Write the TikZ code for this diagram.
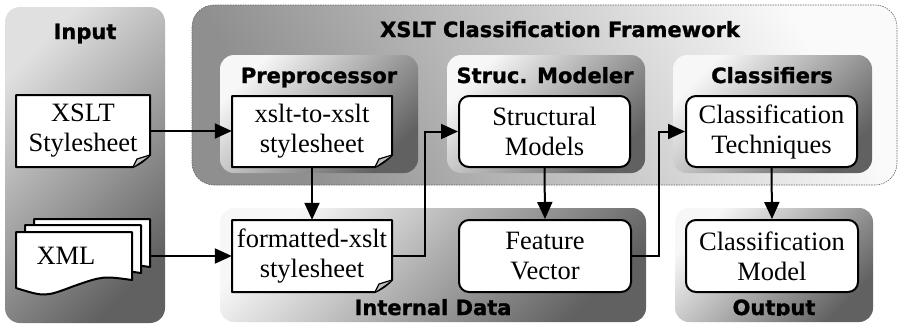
\documentclass[tikz,border=0pt]{standalone}
\usepackage{fontspec}
\setmainfont{Liberation Serif}
\newfontfamily\titlefont{DejaVu Sans}[BoldFeatures={FakeBold=1.2}]
\usetikzlibrary{arrows.meta}
\tikzset{
  boxtext/.style={inner sep=0pt, align=center, font=\fontsize{26.5}{30}\selectfont},
  title/.style={font=\titlefont\bfseries\fontsize{21}{24}\selectfont, anchor=base, inner sep=0pt},
  rbox/.style={draw, line width=2pt, fill=white, rounded corners=10pt, boxtext},
  docline/.style={draw, line width=2pt, fill=white, line join=round},
  foldline/.style={draw, line width=1.2pt, fill=black!25, line join=round},
  conn/.style={line width=2pt, -{Triangle[length=17pt,width=15pt]}},
  innerpanel/.style={rounded corners=14pt, top color=black!3, bottom color=black!62, shading angle=45},
  inpanel/.style={rounded corners=15pt, top color=black!12, bottom color=black!62, shading angle=45},
  fwpanel/.style={rounded corners=22pt, top color=black!2, bottom color=black!44, shading angle=-60,
    draw=black!60, line width=0.6pt, dash pattern=on 1.5pt off 1pt},
}
\newcommand\docbox[6]{%
  \draw[docline] ({#2-#4/2},{#3-#5/2}) -- ({#2+#4/2},{#3-#5/2}) -- ({#2+#4/2},{#3+#5/2-12})
     to[bend left=10] ({#2+#4/2-17},{#3+#5/2}) -- ({#2-#4/2},{#3+#5/2}) -- cycle;
  \draw[foldline] ({#2+#4/2-17},{#3+#5/2}) -- ({#2+#4/2-13},{#3+#5/2-8}) -- ({#2+#4/2},{#3+#5/2-12});
  \node[boxtext, minimum width=#4pt, minimum height=#5pt] (#1) at (#2,#3) {#6};
}
\newcommand\wavedoc{%
  \draw[docline] (16,232) -- (132,232) -- (132,280) .. controls (103,276) .. (74,286)
     .. controls (45,297) .. (16,288) -- cycle;
}
\begin{document}
\begin{tikzpicture}[x=1pt,y=-1pt]
\useasboundingbox (0,0) rectangle (899,325);
% panels
\path[inpanel] (5,7) rectangle (165,323);
\path[fwpanel] (192,5) rectangle (897,185);
\path[innerpanel] (220,55) rectangle (418,173);
\path[innerpanel] (447,55) rectangle (645,173);
\path[innerpanel] (673,55) rectangle (872,173);
\path[innerpanel] (220,208) rectangle (646,322);
\path[innerpanel] (675,208) rectangle (873,322);
% titles
\node[title] (tin) at (85,39) {Input};
\node[title] (tfw) at (560,37) {XSLT Classification Framework};
\node[title] (tpre) at (319,83) {Preprocessor};
\node[title] (tsm) at (545,83) {Struc. Modeler};
\node[title] (tcl) at (772,83) {Classifiers};
\begin{scope}
\clip (200,290) rectangle (899,315.5);
\node[title] (tid) at (433,315) {Internal Data};
\node[title] (tout) at (774,315) {Output};
\end{scope}
% documents
\docbox{xsltss}{83}{131}{134}{72}{XSLT\\Stylesheet}
\docbox{x2x}{312}{131.5}{160}{71}{xslt-to-xslt\\stylesheet}
\docbox{fx}{312}{256}{160}{72}{formatted-xslt\\stylesheet}
% XML stack
\begin{scope}[shift={(18,-13)}]\wavedoc\end{scope}
\begin{scope}[shift={(9,-7)}]\wavedoc\end{scope}
\wavedoc
\node[boxtext] (xml) at (66,256) {XML};
\coordinate (xmlout) at (150,256);
% rounded boxes
\node[rbox, minimum width=171pt, minimum height=71pt] (sm) at (544.5,131.5) {Structural\\Models};
\node[rbox, minimum width=171pt, minimum height=71pt] (ct) at (771.5,131.5) {Classification\\Techniques};
\node[rbox, minimum width=172pt, minimum height=72pt] (fv) at (545,256) {Feature\\Vector};
\node[rbox, minimum width=172pt, minimum height=72pt] (cm) at (772,256) {Classification\\Model};
% connectors
\draw[conn] (xsltss.east) -- (x2x.west |- xsltss.east);
\draw[conn] (xmlout) -- (fx.west);
\draw[conn] (x2x.south) -- (fx.north);
\draw[conn] (fx.east) -- ++(33,0) |- (sm.west);
\draw[conn] (sm.south) -- (fv.north);
\draw[conn] (fv.east) -- ++(27,0) |- (ct.west);
\draw[conn] (ct.south) -- (cm.north);
\end{tikzpicture}
\end{document}
